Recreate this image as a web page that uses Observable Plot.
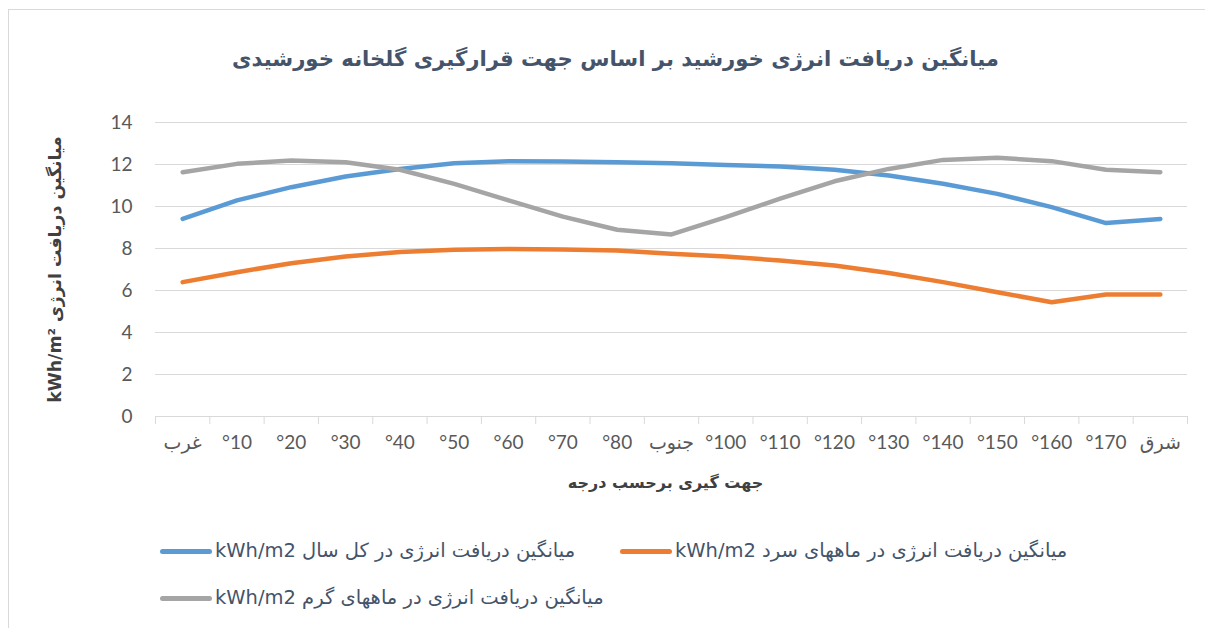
<!DOCTYPE html>
<html><head><meta charset="utf-8">
<script src="https://cdn.jsdelivr.net/npm/d3@7"></script>
<script src="https://cdn.jsdelivr.net/npm/@observablehq/plot@0.6"></script>
<style>
body{margin:0;background:#fff;width:1205px;height:628px;position:relative;overflow:hidden;font-family:Lato,"DejaVu Sans",sans-serif;}
#frame{position:absolute;left:8px;top:9px;width:1200px;height:640px;border:1px solid #d9d9d9;}
#title{position:absolute;left:8px;width:1215px;top:46px;text-align:center;font-weight:bold;font-size:21.2px;font-family:"DejaVu Sans",sans-serif;color:#44546a;direction:rtl;}
#chart{position:absolute;left:0;top:90px;}
.leg{position:absolute;display:flex;align-items:center;font-family:"DejaVu Sans",sans-serif;font-size:19.5px;line-height:24px;color:#44546a;direction:ltr;white-space:nowrap;}
.leg .sw{display:inline-block;width:52px;height:5px;border-radius:3px;margin-right:3px;}
</style></head>
<body>
<div id="frame"></div>
<div id="title">میانگین دریافت انرژی خورشید بر اساس جهت قرارگیری گلخانه خورشیدی</div>
<div id="chart"></div>
<div id="legend"></div>
<script>
const categories = ["غرب","°10","°20","°30","°40","°50","°60","°70","°80","جنوب","°100","°110","°120","°130","°140","°150","°160","°170","شرق"];
const annual = [9.41,10.29,10.92,11.43,11.79,12.06,12.16,12.14,12.11,12.06,11.98,11.9,11.75,11.48,11.08,10.6,9.97,9.21,9.41];
const cold   = [6.40,6.87,7.30,7.62,7.83,7.94,7.98,7.95,7.90,7.75,7.62,7.43,7.19,6.83,6.40,5.92,5.44,5.81,5.81];
const warm   = [11.63,12.03,12.19,12.11,11.75,11.08,10.29,9.52,8.89,8.67,9.49,10.37,11.2,11.79,12.22,12.32,12.16,11.75,11.63];
const seriesNames = ["kWh/m2 میانگین دریافت انرژی در کل سال","kWh/m2 میانگین دریافت انرژی در ماههای سرد","kWh/m2 میانگین دریافت انرژی در ماههای گرم"];
const seriesColors = ["#5b9bd5","#ed7d31","#a5a5a5"];
const yTicks = [0,2,4,6,8,10,12,14];
const yLabel = "kWh/m² میانگین دریافت انرژی";
const xLabel = "جهت گیری برحسب درجه";

const seriesValues = [annual, cold, warm];
const rows = seriesValues.flatMap((vals, s) => vals.map((v, i) => ({i, v, s: seriesNames[s]})));
const idx = categories.map((c, i) => i);
const bounds = d3.range(categories.length + 1).map(i => i - 0.5);

const chart = Plot.plot({
  width: 1205, height: 410,
  marginLeft: 155, marginRight: 18, marginTop: 32, marginBottom: 84,
  x: {type: "linear", domain: [-0.5, categories.length - 0.5]},
  y: {domain: [0, 14]},
  color: {domain: seriesNames, range: seriesColors},
  style: {fontFamily: "Lato, 'DejaVu Sans', sans-serif", fontSize: "19px", color: "#595959", background: "transparent"},
  marks: [
    Plot.gridY(yTicks, {stroke: "#d9d9d9", strokeOpacity: 1, strokeWidth: 1}),
    Plot.axisY(yTicks, {tickSize: 0, tickPadding: 23, label: yLabel, labelAnchor: "center", labelArrow: "none", labelOffset: 107, fontSize: 19}),
    Plot.axisX(bounds, {tickSize: 8, tickFormat: () => "", stroke: "#d9d9d9", label: null}),
    Plot.axisX(idx, {tickSize: 0, tickPadding: 19, tickFormat: i => categories[i], label: xLabel, labelAnchor: "center", labelArrow: "none", labelOffset: 71, fontSize: 19}),
    Plot.lineY(rows, {x: "i", y: "v", z: "s", stroke: "s", strokeWidth: 4.5, strokeLinecap: "round", strokeLinejoin: "round"})
  ]
});
document.getElementById("chart").appendChild(chart);

const svg = d3.select(chart);
svg.selectAll('g[aria-label="x-axis label"] text')
  .style("font-weight", "bold").style("font-family", "'DejaVu Sans', sans-serif").style("font-size", "16px").attr("fill", "#404040").attr("dx", -6);
svg.selectAll('g[aria-label="y-axis label"] text')
  .style("font-weight", "bold").style("font-family", "'DejaVu Sans', sans-serif").style("font-size", "17.3px").attr("fill", "#404040");

const legendPos = [[160, 539], [620, 539], [160, 586]];
const leg = document.getElementById("legend");
seriesNames.forEach((name, s) => {
  const d = document.createElement("div");
  d.className = "leg";
  d.style.left = legendPos[s][0] + "px";
  d.style.top = legendPos[s][1] + "px";
  d.innerHTML = `<span class="sw" style="background:${seriesColors[s]}"></span><span>${name}</span>`;
  leg.appendChild(d);
});
</script>
</body></html>
